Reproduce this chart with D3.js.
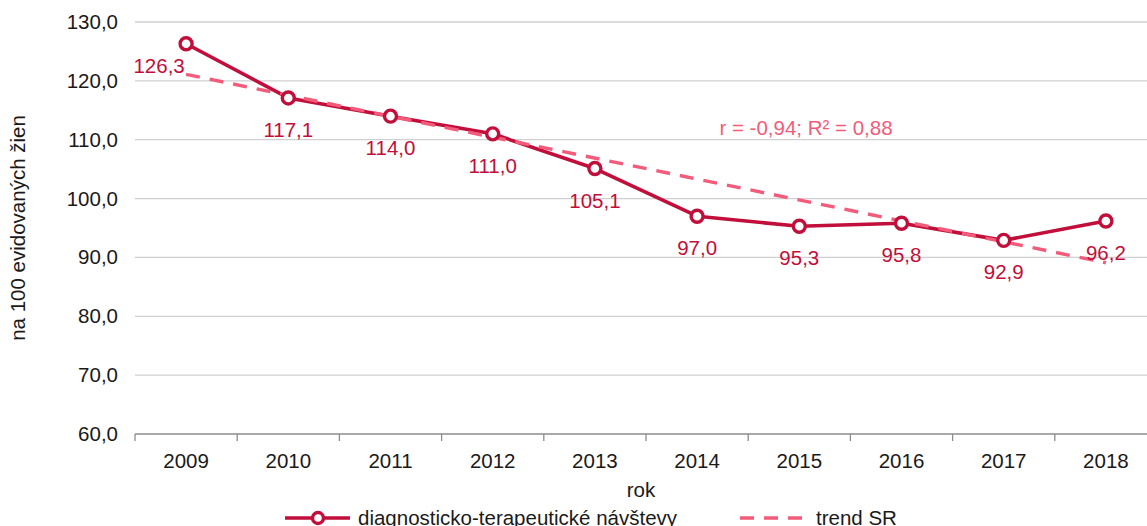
<!DOCTYPE html>
<html lang="en">
<head>
    <meta charset="UTF-8">
    <title>diagnosticko-terapeutické návštevy</title>
    <style>
        body { margin: 0; background: #fff; }
        * { font-family: "Liberation Sans", Arial, sans-serif; }
        .grid line { stroke: #d0d0d0; stroke-width: 1.3; }
    </style>
</head>
<body>
<script src="https://d3js.org/d3.v7.min.js"></script>
<script>
    var years = ["2009", "2010", "2011", "2012", "2013", "2014", "2015", "2016", "2017", "2018"];
    var visits = [126.3, 117.1, 114.0, 111.0, 105.1, 97.0, 95.3, 95.8, 92.9, 96.2];
    // trend SR at first and last year
    var trendYears = ["2009", "2018"];
    var trendValues = [121.1, 89.1];
    var yTicks = [60, 70, 80, 90, 100, 110, 120, 130];

    var width = 1147, height = 526;
    var plotLeft = 135, plotRight = 1157, plotTop = 22, plotBottom = 434;
    var red = "#c20e3a", pink = "#f25c7a";
    var fs = 20.5;
    var fmt = function(v) { return v.toFixed(1).replace(".", ","); };

    var svg = d3.select("body").append("svg")
        .attr("width", width)
        .attr("height", height);

    var x = d3.scaleBand().domain(years).range([plotLeft, plotRight]).padding(0);
    var y = d3.scaleLinear().domain([60, 130]).range([plotBottom, plotTop]);
    var cx = function(d) { return x(d) + x.bandwidth() / 2; };

    // gridlines
    svg.append("g").attr("class", "grid")
        .selectAll("line")
        .data(yTicks.slice(1))
        .enter().append("line")
        .attr("x1", plotLeft).attr("x2", plotRight)
        .attr("y1", function(d) { return y(d); })
        .attr("y2", function(d) { return y(d); });

    // y tick labels
    svg.append("g")
        .attr("transform", "translate(" + plotLeft + ",0)")
        .call(d3.axisLeft(y).tickValues(yTicks).tickFormat(fmt).tickSize(0).tickPadding(17))
        .call(function(g) { g.select(".domain").remove(); })
        .selectAll("text")
        .attr("font-size", fs)
        .attr("fill", "#1a1a1a")
        .style("font-family", "Liberation Sans, Arial, sans-serif");

    // x axis
    var xAxis = svg.append("g").attr("transform", "translate(0," + plotBottom + ")");
    xAxis.append("line")
        .attr("x1", plotLeft).attr("x2", plotRight)
        .attr("stroke", "#8c8c8c").attr("stroke-width", 1.3);
    xAxis.selectAll(".tk")
        .data(years)
        .enter().append("line")
        .attr("x1", function(d) { return x(d); })
        .attr("x2", function(d) { return x(d); })
        .attr("y1", 0).attr("y2", 7)
        .attr("stroke", "#8c8c8c").attr("stroke-width", 1.3);
    xAxis.selectAll("text")
        .data(years)
        .enter().append("text")
        .attr("x", cx)
        .attr("y", 34)
        .attr("text-anchor", "middle")
        .attr("font-size", fs)
        .attr("fill", "#1a1a1a")
        .text(function(d) { return d; });

    // axis titles
    svg.append("text")
        .attr("x", 641).attr("y", 497)
        .attr("text-anchor", "middle")
        .attr("font-size", fs)
        .attr("fill", "#1a1a1a")
        .text("rok");

    svg.append("text")
        .attr("transform", "translate(25," + ((plotTop + plotBottom) / 2) + ") rotate(-90)")
        .attr("text-anchor", "middle")
        .attr("font-size", fs)
        .attr("fill", "#1a1a1a")
        .text("na 100 evidovaných žien");

    // main series
    var line = d3.line()
        .x(function(d, i) { return cx(years[i]); })
        .y(function(d) { return y(d); });

    svg.append("path")
        .datum(visits)
        .attr("d", line)
        .attr("fill", "none")
        .attr("stroke", red)
        .attr("stroke-width", 3.6)
        .attr("stroke-linejoin", "round");

    // trend
    var trendLine = d3.line()
        .x(function(d, i) { return cx(trendYears[i]); })
        .y(function(d) { return y(d); });

    svg.append("path")
        .datum(trendValues)
        .attr("d", trendLine)
        .attr("fill", "none")
        .attr("stroke", pink)
        .attr("stroke-width", 3.4)
        .attr("stroke-dasharray", "14,10");

    svg.selectAll(".pt")
        .data(visits)
        .enter().append("circle")
        .attr("cx", function(d, i) { return cx(years[i]); })
        .attr("cy", function(d) { return y(d); })
        .attr("r", 6)
        .attr("fill", "#fff")
        .attr("stroke", red)
        .attr("stroke-width", 3.4);

    // data labels
    svg.selectAll(".lbl")
        .data(visits)
        .enter().append("text")
        .attr("x", function(d, i) { return i === 0 ? cx(years[i]) - 27 : cx(years[i]); })
        .attr("y", function(d, i) { return i === 0 ? y(d) + 29 : y(d) + 39; })
        .attr("text-anchor", "middle")
        .attr("font-size", fs)
        .attr("fill", red)
        .text(fmt);

    svg.append("text")
        .attr("x", 806).attr("y", 135)
        .attr("text-anchor", "middle")
        .attr("font-size", fs)
        .attr("fill", pink)
        .text("r = -0,94;  R² = 0,88");

    // legend
    var lg = svg.append("g").attr("transform", "translate(0,518)");
    lg.append("line")
        .attr("x1", 285).attr("x2", 350)
        .attr("stroke", red).attr("stroke-width", 3.6);
    lg.append("circle")
        .attr("cx", 318).attr("cy", 0).attr("r", 5.5)
        .attr("fill", "#fff").attr("stroke", red).attr("stroke-width", 3.4);
    lg.append("text")
        .attr("x", 358).attr("y", 7)
        .attr("font-size", fs).attr("fill", "#1a1a1a")
        .text("diagnosticko-terapeutické návštevy");
    lg.append("line")
        .attr("x1", 740).attr("x2", 810)
        .attr("stroke", pink).attr("stroke-width", 3.4)
        .attr("stroke-dasharray", "14,10");
    lg.append("text")
        .attr("x", 816).attr("y", 7)
        .attr("font-size", fs).attr("fill", "#1a1a1a")
        .text("trend SR");
</script>
</body>
</html>
